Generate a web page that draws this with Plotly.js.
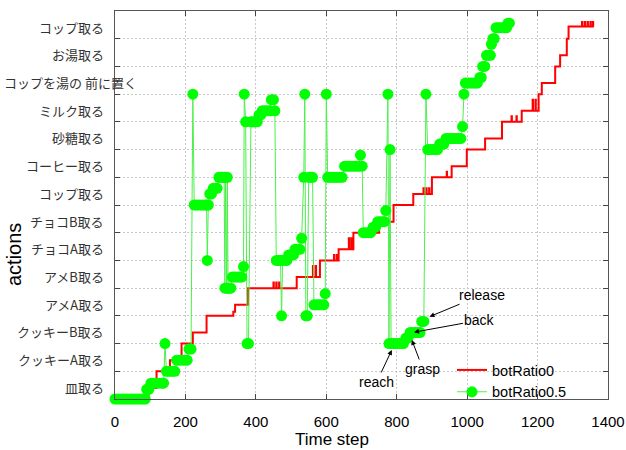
<!DOCTYPE html>
<html>
<head>
<meta charset="utf-8">
<script src="https://cdn.plot.ly/plotly-3.0.1.min.js"></script>
<style>html,body{margin:0;padding:0;background:#fff;}#chart{width:626px;height:450px;}</style>
</head>
<body>
<div id="chart"></div>
<script>
// Action labels (bottom to top)
const actionLabels = ["皿取る","クッキーA取る","クッキーB取る","アメA取る","アメB取る","チョコA取る","チョコB取る","コップ取る","コーヒー取る","砂糖取る","ミルク取る","コップを湯の 前に置く","お湯取る","コップ取る"];
const xTicks = [0,200,400,600,800,1000,1200,1400];

// botRatio0 (step line)
const redX = [0,95,118,156,189,221,260,336,341,378,450,451,458,459,466,467,516,562,563,570,571,582,622,623,630,631,635,664,665,671,672,677,750,791,847,876,877,884,885,892,893,900,942,943,956,999,1051,1099,1126,1127,1140,1141,1155,1186,1187,1194,1195,1203,1212,1250,1264,1283,1288,1326,1327,1334,1335,1342,1343,1350,1351,1357,1358,1359];
const redY = [0,0.4,1,1.4,2,2.4,3,3.15,3.4,4,4.2,4,4.2,4,4.2,4,4.4,4.8,4.4,4.8,4.4,5,5.2,5,5.2,5,5.4,5.8,5.4,5.8,5.4,6,6.4,7,7.4,7.6,7.4,7.6,7.4,7.6,7.4,8,8.2,8,8.4,9,9.4,10,10.2,10,10.2,10,10.4,10.8,10.4,10.8,10.4,11,11.4,12,12.4,13,13.44,13.6,13.44,13.6,13.44,13.6,13.44,13.6,13.44,13.6,13.44,13.44];

// botRatio0.5 (points)
const greenX = [0,8,16,24,32,40,48,56,64,72,80,86,90,96,102,110,118,126,134,138,142,146,154,162,170,175,182,190,198,205,210,216,221,225,232,240,248,256,260,262,265,269,274,279,285,290,295,301,306,310,312,314,317,319,321,325,329,333,340,347,354,360,365,367,371,375,379,386,392,398,404,409,414,418,425,432,439,444,450,454,458,464,470,473,476,482,488,493,500,507,511,518,525,530,536,539,542,546,550,556,561,565,572,579,586,593,597,600,604,610,617,624,631,638,645,652,659,666,673,680,687,693,697,702,705,712,719,726,733,740,746,753,760,765,769,775,778,781,784,791,798,805,812,819,826,832,838,845,852,859,866,871,877,883,888,895,902,909,916,922,928,934,940,947,954,961,968,975,982,987,991,995,1002,1009,1016,1023,1029,1036,1040,1044,1050,1055,1061,1066,1069,1073,1077,1082,1088,1094,1100,1106,1112,1116,1120];
const greenY = [0,0,0,0,0,0,0,0,0,0,0,0,0.35,0.35,0.57,0.57,0.57,0.57,0.57,0.57,2,1,1,1,1,1.4,1.4,1.4,1.4,1.4,1.8,1.8,11,7,7,7,7,7,7,5,7,7.4,7.4,7.6,7.6,7.6,8,8,8,8,4,8,4,8,4,4,4,4.4,4.4,4.4,4.4,4.4,4.78,11,10,2,2,10,10,10,10,10.25,10.25,10.4,10.4,10.4,10.4,10.8,10.8,10.4,5,5,5,3,5,5,5,5.2,5.2,5.2,5.4,5.4,5.4,5.8,8,11,3,3,8,8,8,3.4,3.4,3.4,3.4,3.4,3.8,11,8,8,8,8,8,8,8,8.4,8.4,8.4,8.4,8.4,8.4,8.4,8.8,8.4,6,6,6,6,6.2,6.2,6.4,6.4,6.4,6.4,6.8,11,2,9,2,2,2,2,2,2,2.2,2.2,2.4,2.4,2.4,2.4,2.4,2.8,2.8,11,9,9,9,9,9,9.2,9.2,9.2,9.4,9.4,9.4,9.4,9.4,9.4,9.4,9.83,11,11.4,11.4,11.4,11.4,11.4,11.4,11.6,11.6,12,12,12.4,12.4,12.4,12.8,13,13,13.4,13.4,13.4,13.4,13.4,13.4,13.56,13.56];

// Phase annotation labels
const phaseText = ["reach","grasp","back","release"];
const phaseTipX = [786,843,849,893];
const phaseTipY = [1.77,2.13,2.41,2.97];
const phaseAx = [-15,11,66,53];
const phaseAy = [32,29,-12,-22];

const L = 115, R = 608, T = 11, B = 399;
const px2paperX = p => (p - L) / (R - L);
const px2paperY = p => (B - p) / (B - T);

const traces = [
  {x: redX, y: redY, type: 'scatter', mode: 'lines', name: 'botRatio0',
   line: {shape: 'hv', color: '#ff0000', width: 2}},
  {x: greenX, y: greenY, type: 'scatter', mode: 'lines+markers', name: 'botRatio0.5',
   line: {color: '#4cf04c', width: 1}, marker: {color: '#00ff00', size: 11},
   cliponaxis: false}
];

const annotations = [];
actionLabels.forEach((t, i) => {
  const long = t.length > 8;
  annotations.push({
    text: t, xref: 'paper', yref: 'y',
    x: long ? px2paperX(2) : px2paperX(106), y: i + 0.42,
    xanchor: long ? 'left' : 'right', yanchor: 'middle', showarrow: false,
    font: {family: 'Noto Sans CJK JP, sans-serif', size: 13, color: '#333'}
  });
});
phaseText.forEach((t, i) => {
  annotations.push({
    text: t, x: phaseTipX[i], y: phaseTipY[i], xref: 'x', yref: 'y',
    ax: phaseAx[i], ay: phaseAy[i], showarrow: true,
    arrowhead: 2, arrowsize: 1, arrowwidth: 1, arrowcolor: '#000', standoff: 0,
    font: {family: 'Liberation Sans, Arial, sans-serif', size: 14, color: '#000'}
  });
});
annotations.push({
  text: 'Time step', xref: 'paper', yref: 'paper', x: px2paperX(332), y: px2paperY(439),
  xanchor: 'center', yanchor: 'middle', showarrow: false,
  font: {family: 'Liberation Sans, Arial, sans-serif', size: 17, color: '#000'}
});
annotations.push({
  text: 'actions', xref: 'paper', yref: 'paper', x: px2paperX(14), y: px2paperY(255),
  xanchor: 'center', yanchor: 'middle', showarrow: false, textangle: -90,
  font: {family: 'Liberation Sans, Arial, sans-serif', size: 20, color: '#000'}
});

const layout = {
  width: 626, height: 450,
  margin: {l: L, r: 626 - R, t: T, b: 450 - B},
  paper_bgcolor: '#fff', plot_bgcolor: '#fff',
  font: {family: 'Liberation Sans, Arial, sans-serif', size: 15, color: '#000'},
  showlegend: true,
  legend: {x: px2paperX(452), y: px2paperY(354), xanchor: 'left', yanchor: 'top',
           bgcolor: 'rgba(0,0,0,0)', font: {size: 14.5}},
  xaxis: {range: [0, 1400], tickvals: xTicks, ticktext: xTicks.map(String),
          showgrid: true, gridcolor: '#c8c8c8', griddash: '2px,2px', gridwidth: 1,
          ticks: 'inside', ticklen: 5, tickcolor: '#444', showline: true, linecolor: '#555',
          linewidth: 1, mirror: 'ticks', zeroline: false, ticklabelstandoff: 9,
          tickfont: {size: 15}},
  yaxis: {range: [0, 14], tickvals: actionLabels.map((_, i) => i).concat([14]),
          showticklabels: false,
          showgrid: true, gridcolor: '#c8c8c8', griddash: '2px,2px', gridwidth: 1,
          ticks: 'inside', ticklen: 5, tickcolor: '#444', showline: true, linecolor: '#555',
          linewidth: 1, mirror: 'ticks', zeroline: false},
  annotations: annotations
};

Plotly.newPlot('chart', traces, layout, {displayModeBar: false, staticPlot: true});
</script>
</body>
</html>
